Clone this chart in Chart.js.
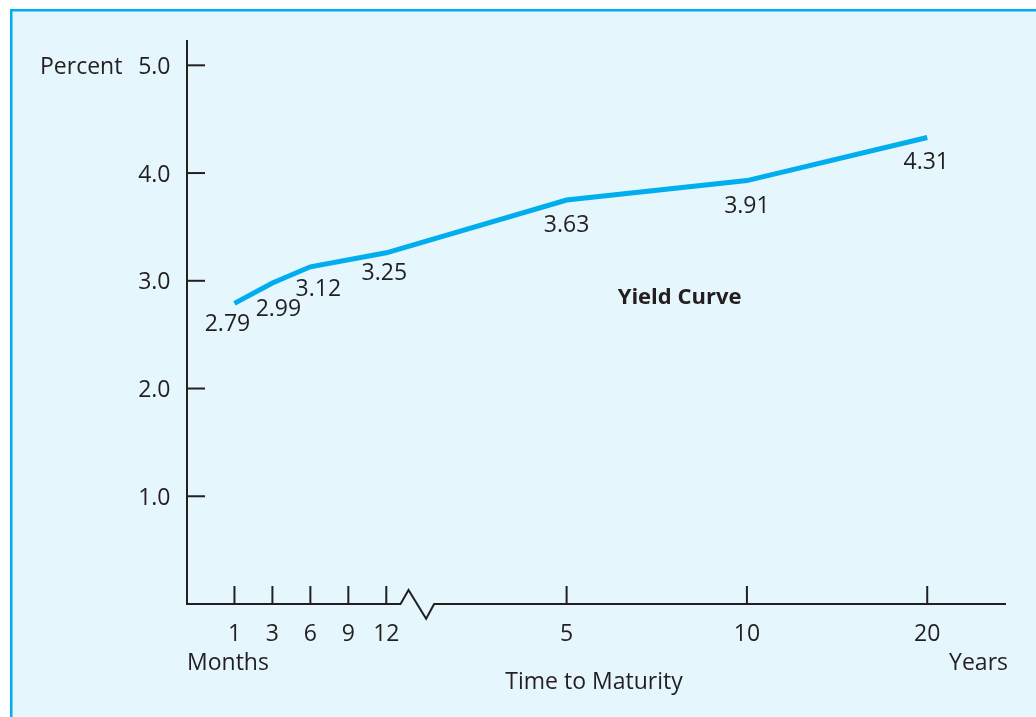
<!DOCTYPE html>
<html>
<head>
<meta charset="utf-8">
<script src="https://cdn.jsdelivr.net/npm/chart.js@4.4.1/dist/chart.umd.min.js"></script>
<style>
  html, body { margin: 0; padding: 0; background: #ffffff; }
  #wrap { position: relative; width: 1036px; height: 717px; }
</style>
</head>
<body>
<div id="wrap"><canvas id="c" width="1036" height="717"></canvas></div>
<script>
// ---------------- DATA ----------------
const maturityLabels = ['1', '3', '6', '9', '12', '5', '10', '20'];
const maturityUnits  = ['Months', 'Months', 'Months', 'Months', 'Months', 'Years', 'Years', 'Years'];
// yield as drawn by the curve (percent); 9 months has no point
const yieldValues = [2.79, 2.98, 3.13, null, 3.26, 3.75, 3.93, 4.33];
// yield labels printed beside the curve
const yieldLabels = ['2.79', '2.99', '3.12', null, '3.25', '3.63', '3.91', '4.31'];
const yTickValues = [1.0, 2.0, 3.0, 4.0, 5.0];
const seriesName = 'Yield Curve';
const yAxisTitle = 'Percent';
const xAxisTitle = 'Time to Maturity';

// ---------------- LAYOUT ----------------
// position of each maturity along the (broken) horizontal axis, in axis slots
const maturitySlots = [5, 9, 13, 17, 21, 40, 59, 78];
const X_MAX = 86.3, Y_MAX = 5.235;
const labelDx = [-7, 6, 8, 0, -2, 0, 0, -1];
const labelDy = [28, 33, 29, 0, 27, 32, 32, 31];
const FONT = '"Open Sans", "Noto Sans", sans-serif';
const INK = '#231f20';
const CYAN = '#00aeef';

const points = maturitySlots.map((s, i) => ({ x: s, y: yieldValues[i] }));

const decor = {
  id: 'decor',
  beforeDraw(chart) {
    const ctx = chart.ctx;
    ctx.save();
    ctx.fillStyle = '#ffffff';
    ctx.fillRect(0, 0, chart.width, chart.height);
    ctx.fillStyle = '#e5f6fd';
    ctx.fillRect(10, 9, chart.width - 10, chart.height - 9);
    ctx.fillStyle = CYAN;
    ctx.fillRect(10, 9, 2.5, chart.height - 9);
    ctx.fillRect(10, 9, chart.width - 10, 2.5);
    ctx.restore();
  },
  afterDraw(chart) {
    const ctx = chart.ctx;
    const xs = chart.scales.x, ys = chart.scales.y;
    const a = chart.chartArea;
    const x0 = xs.getPixelForValue(0);
    const y0 = ys.getPixelForValue(0);
    ctx.save();
    ctx.strokeStyle = INK;
    ctx.lineWidth = 2;
    ctx.lineCap = 'butt';
    ctx.lineJoin = 'miter';
    // y axis
    ctx.beginPath();
    ctx.moveTo(x0, a.top);
    ctx.lineTo(x0, y0 + 1);
    ctx.stroke();
    // y ticks (inward)
    yTickValues.forEach(v => {
      const y = ys.getPixelForValue(v);
      ctx.beginPath();
      ctx.moveTo(x0, y);
      ctx.lineTo(x0 + 18, y);
      ctx.stroke();
    });
    // x axis with break
    const bx = xs.getPixelForValue(22.5);
    ctx.beginPath();
    ctx.moveTo(x0 - 1, y0);
    ctx.lineTo(bx, y0);
    ctx.lineTo(bx + 8, y0 - 14);
    ctx.lineTo(bx + 25.6, y0 + 14.7);
    ctx.lineTo(bx + 33.6, y0);
    ctx.lineTo(a.right, y0);
    ctx.stroke();
    // x ticks (inward)
    maturitySlots.forEach(s => {
      const x = xs.getPixelForValue(s);
      ctx.beginPath();
      ctx.moveTo(x, y0);
      ctx.lineTo(x, y0 - 18);
      ctx.stroke();
    });

    ctx.fillStyle = INK;
    ctx.textBaseline = 'alphabetic';
    ctx.font = '23px ' + FONT;
    // y tick labels
    ctx.textAlign = 'right';
    yTickValues.forEach(v => {
      ctx.fillText(v.toFixed(1), x0 - 16.5, ys.getPixelForValue(v) + 8.6);
    });
    ctx.textAlign = 'left';
    ctx.fillText(yAxisTitle, 40, ys.getPixelForValue(5) + 8.6);
    // x tick labels
    ctx.textAlign = 'center';
    maturityLabels.forEach((l, i) => {
      ctx.fillText(l, xs.getPixelForValue(maturitySlots[i]), y0 + 37);
    });
    ctx.textAlign = 'left';
    ctx.fillText(maturityUnits[0], 187, y0 + 66);
    ctx.textAlign = 'right';
    ctx.fillText(maturityUnits[maturityUnits.length - 1], 1008, y0 + 66);
    ctx.textAlign = 'center';
    ctx.fillText(xAxisTitle, 594, y0 + 85);
    // data labels
    yieldLabels.forEach((l, i) => {
      if (l === null) return;
      const x = xs.getPixelForValue(maturitySlots[i]) + labelDx[i];
      const y = ys.getPixelForValue(yieldValues[i]) + labelDy[i];
      ctx.fillText(l, x, y);
    });
    // series name
    ctx.font = 'bold 22px ' + FONT;
    ctx.fillText(seriesName, xs.getPixelForValue(51.9), ys.getPixelForValue(2.785));
    ctx.restore();
  }
};

new Chart(document.getElementById('c'), {
  type: 'line',
  data: {
    datasets: [{
      label: seriesName,
      data: points,
      borderColor: CYAN,
      backgroundColor: CYAN,
      borderWidth: 5,
      pointRadius: 0,
      tension: 0,
      spanGaps: true,
      fill: false
    }]
  },
  options: {
    responsive: false,
    animation: false,
    layout: { padding: { left: 187, top: 40, right: 30, bottom: 113 } },
    plugins: { legend: { display: false }, tooltip: { enabled: false } },
    scales: {
      x: { type: 'linear', display: false, min: 0, max: X_MAX },
      y: { type: 'linear', display: false, min: 0, max: Y_MAX }
    }
  },
  plugins: [decor]
});
</script>
</body>
</html>
